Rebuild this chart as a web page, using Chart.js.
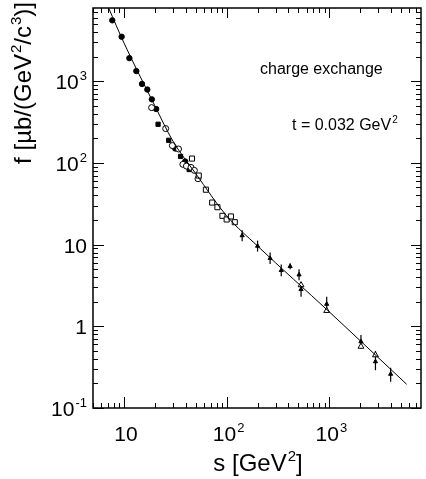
<!DOCTYPE html>
<html>
<head>
<meta charset="utf-8">
<script src="https://cdn.jsdelivr.net/npm/chart.js@4/dist/chart.umd.min.js"></script>
<style>
  html, body { margin: 0; padding: 0; background: #fff; }
  canvas { display: block; }
</style>
</head>
<body>
<canvas id="chart" width="426" height="479"></canvas>
<script>
// axis ranges and tick labels
const xRange = [5, 7800]
const yRange = [0.1, 7870]
const xTickValues = [10, 100, 1000]
const xTickLabels = [['10', ''], ['10', '2'], ['10', '3']]
const yTickValues = [0.1, 1, 10, 100, 1000]
const yTickLabels = [['10', '-1'], ['1', ''], ['10', ''], ['10', '2'], ['10', '3']]

// data
const filledCircleS = [7.7, 9.5, 11.3, 13.2, 15.0, 16.9, 18.7, 20.6, 31.6, 39.5, 44.0]
const filledCircleF = [5560, 3500, 1915, 1330, 926, 790, 600, 457, 150, 104, 88]

const filledSquareS = [21.5, 27.3, 35.6, 43.2]
const filledSquareF = [297, 189, 120, 83]

const openCircleS = [18.6, 25.5, 29.6, 34.0, 37.5, 40.6, 45.0, 48.5, 52.6]
const openCircleF = [475, 263, 163, 148, 96, 91.5, 88, 81, 64]

const openSquareS = [46, 53.5, 62.8, 72.3, 81.3, 91, 100, 110, 120]
const openSquareF = [113, 70, 47, 32.7, 28.7, 22.5, 20.3, 22.1, 18.8]

const crossS = [141.6, 200, 265, 340, 415, 507, 530, 942, 2030, 2810, 3950]
const crossF = [12.9, 9.6, 6.8, 4.84, 5.42, 4.28, 2.83, 1.87, 0.65, 0.37, 0.26]
const crossHi = [15.0, 11.2, 8.0, 5.7, 5.9, 5.0, 3.3, 2.3, 0.78, 0.50, 0.31]
const crossLo = [11.0, 8.2, 5.8, 4.1, 5.0, 3.65, 2.3, 1.5, 0.53, 0.29, 0.21]

const openTriangleS = [530, 942, 2030, 2810]
const openTriangleF = [3.2, 1.55, 0.565, 0.444]

const fitS = [7.1, 10, 20, 30, 50, 100, 200, 1000, 5660]
const fitF = [7870, 2950, 500, 185, 74, 22.5, 9.6, 1.5, 0.195]

const toPoints = (xs, ys) => xs.map((x, i) => ({ x, y: ys[i] }))

const FONT = '"Liberation Sans", Arial, sans-serif'

// text with optional superscript parts: [[text, sup], ...]
function richWidth(ctx, parts, size) {
  let w = 0
  parts.forEach(([t, sup]) => {
    ctx.font = `${size}px ${FONT}`
    w += ctx.measureText(t).width
    if (sup) {
      ctx.font = `${Math.round(size * 0.62)}px ${FONT}`
      w += ctx.measureText(sup).width + 1
    }
  })
  return w
}

function drawRich(ctx, parts, x, y, size, align) {
  const w = richWidth(ctx, parts, size)
  let cx = align === 'right' ? x - w : align === 'center' ? x - w / 2 : x
  ctx.textAlign = 'left'
  ctx.textBaseline = 'alphabetic'
  parts.forEach(([t, sup]) => {
    ctx.font = `${size}px ${FONT}`
    ctx.fillText(t, cx, y)
    cx += ctx.measureText(t).width
    if (sup) {
      ctx.font = `${Math.round(size * 0.62)}px ${FONT}`
      ctx.fillText(sup, cx + 1, y - size * 0.42)
      cx += ctx.measureText(sup).width + 1
    }
  })
}

const errorBars = {
  id: 'errorBars',
  beforeDatasetsDraw(chart) {
    const { ctx } = chart
    const xs = chart.scales.x
    const ys = chart.scales.y
    ctx.save()
    ctx.strokeStyle = '#000'
    ctx.lineWidth = 1.2
    crossS.forEach((s, i) => {
      const px = xs.getPixelForValue(s)
      ctx.beginPath()
      ctx.moveTo(px, ys.getPixelForValue(crossHi[i]))
      ctx.lineTo(px, ys.getPixelForValue(crossLo[i]))
      ctx.stroke()
    })
    ctx.restore()
  },
}

function decadeTicks(min, max) {
  const major = []
  const minor = []
  for (let e = Math.floor(Math.log10(min)); e <= Math.ceil(Math.log10(max)); e++) {
    for (let m = 1; m <= 9; m++) {
      const v = m * Math.pow(10, e)
      if (v < min * 0.999 || v > max * 1.001) continue
      ;(m === 1 ? major : minor).push(v)
    }
  }
  return { major, minor }
}

const frameAxes = {
  id: 'frameAxes',
  afterDraw(chart) {
    const { ctx, chartArea: a } = chart
    const xs = chart.scales.x
    const ys = chart.scales.y
    ctx.save()
    ctx.strokeStyle = '#000'
    ctx.fillStyle = '#000'
    ctx.lineWidth = 1.5
    ctx.strokeRect(a.left, a.top, a.right - a.left, a.bottom - a.top)

    ctx.lineWidth = 1
    const xt = decadeTicks(xRange[0], xRange[1])
    const yt = decadeTicks(yRange[0], yRange[1])
    ctx.beginPath()
    const xTick = (v, len, lenTop) => {
      const p = Math.round(xs.getPixelForValue(v)) + 0.5
      ctx.moveTo(p, a.bottom); ctx.lineTo(p, a.bottom - len)
      ctx.moveTo(p, a.top); ctx.lineTo(p, a.top + lenTop)
    }
    const yTick = (v, len, lenRight) => {
      const p = Math.round(ys.getPixelForValue(v)) + 0.5
      ctx.moveTo(a.left, p); ctx.lineTo(a.left + len, p)
      ctx.moveTo(a.right, p); ctx.lineTo(a.right - lenRight, p)
    }
    xt.major.forEach(v => xTick(v, 11, 10))
    xt.minor.forEach(v => xTick(v, 5, 5))
    yt.major.forEach(v => yTick(v, 11, 10))
    yt.minor.forEach(v => yTick(v, 5, 5))
    ctx.stroke()

    // tick labels
    xTickValues.forEach((v, i) => {
      const [b, e] = xTickLabels[i]
      drawRich(ctx, [[b, e]], xs.getPixelForValue(v) + 2, 441, 21, 'center')
    })
    yTickValues.forEach((v, i) => {
      const [b, e] = yTickLabels[i]
      drawRich(ctx, [[b, e]], 87, ys.getPixelForValue(v) + 8, 21, 'right')
    })

    // axis titles
    drawRich(ctx, [['s [GeV', '2'], [']', '']], 258, 471, 24, 'center')
    ctx.save()
    ctx.translate(31, 2)
    ctx.rotate(-Math.PI / 2)
    drawRich(ctx, [['f [\u00b5b/(GeV', '2'], ['/c', '3'], [')]', '']], 0, 0, 24, 'right')
    ctx.restore()

    // annotations
    drawRich(ctx, [['charge exchange', '']], 260, 74, 16, 'left')
    drawRich(ctx, [['t = 0.032 GeV', '2']], 292, 130, 16, 'left')
    ctx.restore()
  },
}

new Chart(document.getElementById('chart'), {
  type: 'scatter',
  data: {
    datasets: [
      {
        data: toPoints(fitS, fitF),
        showLine: true,
        borderColor: '#000',
        borderWidth: 1,
        pointRadius: 0,
        cubicInterpolationMode: 'monotone',
      },
      {
        data: toPoints(crossS, crossF),
        pointStyle: 'triangle',
        pointRadius: 2.4,
        backgroundColor: '#000',
        borderColor: '#000',
        borderWidth: 1,
      },
      {
        data: toPoints(openTriangleS, openTriangleF),
        pointStyle: 'triangle',
        pointRadius: 3.4,
        backgroundColor: '#fff',
        borderColor: '#000',
        borderWidth: 1,
      },
      {
        data: toPoints(openSquareS, openSquareF),
        pointStyle: 'rect',
        pointRadius: 3.6,
        backgroundColor: '#fff',
        borderColor: '#000',
        borderWidth: 1,
      },
      {
        data: toPoints(openCircleS, openCircleF),
        pointStyle: 'circle',
        pointRadius: 3,
        backgroundColor: '#fff',
        borderColor: '#000',
        borderWidth: 1,
      },
      {
        data: toPoints(filledSquareS, filledSquareF),
        pointStyle: 'rect',
        pointRadius: 3,
        backgroundColor: '#000',
        borderColor: '#000',
        borderWidth: 1,
      },
      {
        data: toPoints(filledCircleS, filledCircleF),
        pointStyle: 'circle',
        pointRadius: 2.7,
        backgroundColor: '#000',
        borderColor: '#000',
        borderWidth: 1,
      },
    ],
  },
  options: {
    responsive: false,
    animation: false,
    layout: { padding: { left: 93, right: 1, top: 8, bottom: 71 } },
    plugins: { legend: { display: false }, tooltip: { enabled: false } },
    scales: {
      x: { type: 'logarithmic', min: xRange[0], max: xRange[1], display: false },
      y: { type: 'logarithmic', min: yRange[0], max: yRange[1], display: false },
    },
  },
  plugins: [errorBars, frameAxes],
})
</script>
</body>
</html>
